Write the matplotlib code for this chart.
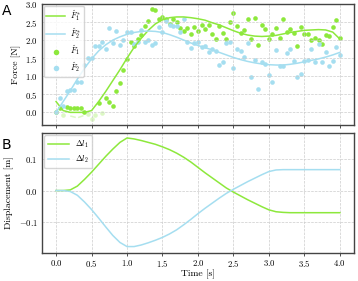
import numpy as np
import matplotlib
matplotlib.use("Agg")
import matplotlib.pyplot as plt

plt.rcParams['font.family'] = 'serif'
plt.rcParams['font.serif'] = ['cmr10', 'DejaVu Serif']
plt.rcParams['mathtext.fontset'] = 'cm'
plt.rcParams['axes.formatter.use_mathtext'] = True
plt.rcParams['axes.unicode_minus'] = True

# measured forces, sampled every 0.05 s
t_meas = np.arange(81) * 0.05
F1_meas = [0.02, 0.11, -0.06, 0.16, 0.13, 0.12, 0.11, 0.11, 0.02, -0.05,
           -0.17, -0.08, 0.25, -0.01, 0.39, 0.30, 0.17, 0.59, 0.81, 1.17,
           1.47, 1.94, 1.85, 2.03, 2.15, 2.39, 2.53, 2.86, 2.82, 2.59,
           2.63, 2.57, 2.45, 2.57, 2.49, 2.34, 2.24, 2.33, 2.18, 2.35,
           2.24, 2.43, 2.31, 2.41, 2.18, 2.02, 2.38, 2.20, 2.02, 2.51,
           2.76, 2.40, 2.19, 2.27, 2.57, 2.03, 2.62, 1.87, 2.41, 2.32,
           2.04, 2.16, 2.34, 2.07, 2.59, 2.21, 2.32, 2.19, 1.84, 2.35,
           2.16, 2.17, 1.99, 2.05, 1.99, 1.89, 2.15, 2.10, 2.37, 2.55,
           2.06]
F2_meas = [0.02, 0.40, 0.17, 0.60, 0.61, 0.61, 0.83, 0.83, 1.32, 1.51,
           1.51, 1.83, 1.85, 1.96, 1.75, 2.33, 1.92, 2.24, 1.87, 2.01,
           2.21, 2.21, 1.90, 1.96, 2.29, 1.96, 1.99, 1.87, 1.92, 2.35,
           2.22, 2.54, 2.42, 2.38, 2.40, 2.22, 2.59, 1.94, 1.78, 1.92,
           1.95, 1.82, 1.85, 1.66, 1.75, 1.69, 1.30, 1.40, 1.92, 1.94,
           1.24, 1.74, 1.69, 1.53, 1.92, 0.97, 1.46, 0.66, 1.39, 1.33,
           1.03, 0.85, 1.73, 1.29, 1.28, 1.63, 1.76, 1.43, 0.98, 1.07,
           1.43, 1.45, 1.74, 1.40, 1.89, 1.40, 1.66, 1.29, 1.43, 1.81,
           1.60]

# fitted forces and displacements, every 0.1 s
t_fit = np.arange(41) * 0.1
F1_fit = [0.30, 0.05, -0.10, -0.15, -0.08, 0.05, 0.30, 0.58, 0.88, 1.18,
          1.50, 1.80, 2.05, 2.27, 2.45, 2.56, 2.62, 2.64, 2.64, 2.62,
          2.59, 2.55, 2.48, 2.42, 2.34, 2.26, 2.19, 2.14, 2.11, 2.10,
          2.11, 2.13, 2.17, 2.21, 2.24, 2.27, 2.28, 2.29, 2.28, 2.22,
          2.03]
F2_fit = [0.00, 0.30, 0.60, 0.92, 1.22, 1.48, 1.70, 1.87, 2.00, 2.09,
          2.16, 2.21, 2.24, 2.25, 2.24, 2.21, 2.15, 2.08, 2.00, 1.92,
          1.85, 1.79, 1.73, 1.66, 1.59, 1.52, 1.46, 1.41, 1.37, 1.34,
          1.32, 1.31, 1.31, 1.33, 1.36, 1.40, 1.44, 1.48, 1.53, 1.59,
          1.66]
dl1 = [0.000, 0.000, 0.002, 0.014, 0.035, 0.058, 0.083, 0.108, 0.131, 0.152,
       0.166, 0.163, 0.158, 0.152, 0.146, 0.138, 0.129, 0.118, 0.105, 0.090,
       0.073, 0.056, 0.040, 0.024, 0.008, -0.005, -0.017, -0.029, -0.040, -0.051,
       -0.061, -0.067, -0.069, -0.070, -0.070, -0.070, -0.070, -0.070, -0.070, -0.070,
       -0.070]
dl2 = [0.000, 0.000, -0.003, -0.015, -0.036, -0.060, -0.087, -0.115, -0.142, -0.164,
       -0.177, -0.177, -0.172, -0.165, -0.157, -0.148, -0.137, -0.124, -0.108, -0.091,
       -0.073, -0.056, -0.040, -0.024, -0.009, 0.004, 0.016, 0.028, 0.039, 0.050,
       0.060, 0.065, 0.066, 0.066, 0.066, 0.066, 0.066, 0.066, 0.066, 0.066,
       0.066]

green = '#8de83c'
blue = '#a5def0'

fig = plt.figure(figsize=(3.58, 2.81), dpi=100)
ax1 = fig.add_axes([0.117, 0.555, 0.872, 0.431])
ax2 = fig.add_axes([0.117, 0.100, 0.872, 0.427], sharex=ax1)

F1_fit = np.array(F1_fit)
F1_meas = np.array(F1_meas)
neg = F1_meas < 0

ax1.plot(t_fit, np.clip(F1_fit, 0, None), color=green, lw=1.1, label=r'$\hat{F}_1^*$')
ax1.plot(t_fit, F2_fit, color=blue, lw=1.1, label=r'$\hat{F}_2^*$')
ax1.plot(t_fit, np.where(F1_fit < 0, F1_fit, np.nan), color=green, lw=1.1,
         ls='--', alpha=0.3)
ax1.scatter(t_meas[~neg], F1_meas[~neg], s=11, color=green, lw=0, label=r'$\hat{F}_1$')
ax1.scatter(t_meas[neg], F1_meas[neg], s=11, color=green, lw=0, alpha=0.3)
ax1.scatter(t_meas, F2_meas, s=11, color=blue, lw=0, label=r'$\hat{F}_2$')
ax1.set_ylim(-0.35, 3.0)
ax1.set_yticks(np.arange(0, 3.01, 0.5))
ax1.set_ylabel('Force [N]', fontsize=7, labelpad=3)
ax1.legend(loc='upper left', fontsize=6, handlelength=2.2, framealpha=0.8,
           borderaxespad=0.2, labelspacing=0.35, handletextpad=0.6,
           borderpad=0.35, markerscale=1.2)
plt.setp(ax1.get_xticklabels(), visible=False)

ax2.plot(t_fit, dl1, color=green, lw=1.1, label=r'$\Delta l_1$')
ax2.plot(t_fit, dl2, color=blue, lw=1.1, label=r'$\Delta l_2$')
ax2.set_ylim(-0.197, 0.182)
ax2.set_yticks([-0.1, 0.0, 0.1])
ax2.set_xlim(-0.2, 4.2)
ax2.set_xticks(np.arange(0, 4.01, 0.5))
ax2.set_ylabel('Displacement [m]', fontsize=7, labelpad=3)
ax2.set_xlabel('Time [s]', fontsize=7, labelpad=0.5)
ax2.legend(loc='upper left', fontsize=6, handlelength=2.5, framealpha=0.8,
           borderaxespad=0.3, labelspacing=0.4, borderpad=0.4)

for ax in (ax1, ax2):
    ax.grid(True, ls='--', lw=0.5, color='#cccccc')
    ax.tick_params(labelsize=6.3, width=0.6, length=2, pad=1.5, color='#333333')
    ax.tick_params(axis='y', length=0, pad=3)
    for sp in ax.spines.values():
        sp.set_color('#444444')
        sp.set_linewidth(1.0)

fig.text(0.005, 0.945, 'A', fontsize=10, family='DejaVu Sans')
fig.text(0.005, 0.47, 'B', fontsize=10, family='DejaVu Sans')

fig.savefig('out.png', dpi=100)
